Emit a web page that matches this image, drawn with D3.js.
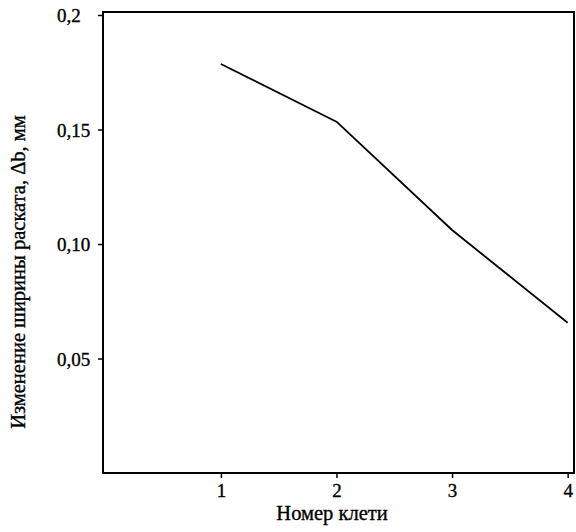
<!DOCTYPE html>
<html>
<head>
<meta charset="utf-8">
<script src="https://cdn.jsdelivr.net/npm/d3@7"></script>
<style>
  html, body { margin: 0; padding: 0; background: #fff; }
  svg { display: block; }
  text { font-family: "Liberation Serif", "Times New Roman", serif; fill: #000; stroke: #000; stroke-width: 0.35px; }
</style>
</head>
<body>
<svg id="chart" width="576" height="532"></svg>
<script>
// Stand number and the widening of the strip after it
const stands = [1, 2, 3, 4];
const widening = [0.1786, 0.1534, 0.1061, 0.0656];
const xTicks = [1, 2, 3, 4];
const yTicks = [0.05, 0.10, 0.15, 0.2];
const yTickLabels = ["0,05", "0,10", "0,15", "0,2"];
const xTitle = "Номер клети";
const yTitle = "Изменение ширины раската, Δb, мм";

const svg = d3.select("#chart");
const frame = { left: 103, right: 574, top: 12, bottom: 473 };

const x = d3.scaleLinear().domain([-0.02, 4.055]).range([frame.left, frame.right]);
const y = d3.scaleLinear().domain([0, 0.2]).range([frame.bottom, 15]);

// plot frame
svg.append("rect")
  .attr("x", frame.left).attr("y", frame.top)
  .attr("width", frame.right - frame.left).attr("height", frame.bottom - frame.top)
  .attr("fill", "none").attr("stroke", "#000").attr("stroke-width", 2);

// y axis
const yAxis = svg.append("g")
  .attr("transform", `translate(${frame.left},0)`)
  .call(d3.axisLeft(y).tickValues(yTicks).tickSize(5).tickPadding(0)
    .tickFormat((d, i) => yTickLabels[i]));
yAxis.select(".domain").remove();
yAxis.selectAll(".tick line").attr("stroke", "#000").attr("stroke-width", 1.5);
yAxis.selectAll(".tick text")
  .attr("x", -46).attr("dy", "0.35em")
  .attr("text-anchor", "start")
  .style("font-size", "19px").style("font-family", "Liberation Serif");

// x axis
const xAxis = svg.append("g")
  .attr("transform", `translate(0,${frame.bottom})`)
  .call(d3.axisBottom(x).tickValues(xTicks).tickSize(5).tickPadding(0)
    .tickFormat(d3.format("d")));
xAxis.select(".domain").remove();
xAxis.selectAll(".tick line").attr("stroke", "#000").attr("stroke-width", 1.5);
xAxis.selectAll(".tick text")
  .attr("y", 24).attr("dy", 0)
  .style("font-size", "19px").style("font-family", "Liberation Serif");

// data line
const line = d3.line()
  .x((d, i) => x(stands[i]))
  .y(d => y(d));
svg.append("path")
  .datum(widening)
  .attr("d", line)
  .attr("fill", "none")
  .attr("stroke", "#000")
  .attr("stroke-width", 1.8)
  .attr("stroke-linejoin", "round");

// axis titles
svg.append("text")
  .attr("x", 332).attr("y", 520)
  .attr("text-anchor", "middle")
  .style("font-size", "20.5px")
  .text(xTitle);

svg.append("text")
  .attr("transform", "translate(25,272) rotate(-90)")
  .attr("text-anchor", "middle")
  .style("font-size", "20.5px")
  .text(yTitle);
</script>
</body>
</html>
